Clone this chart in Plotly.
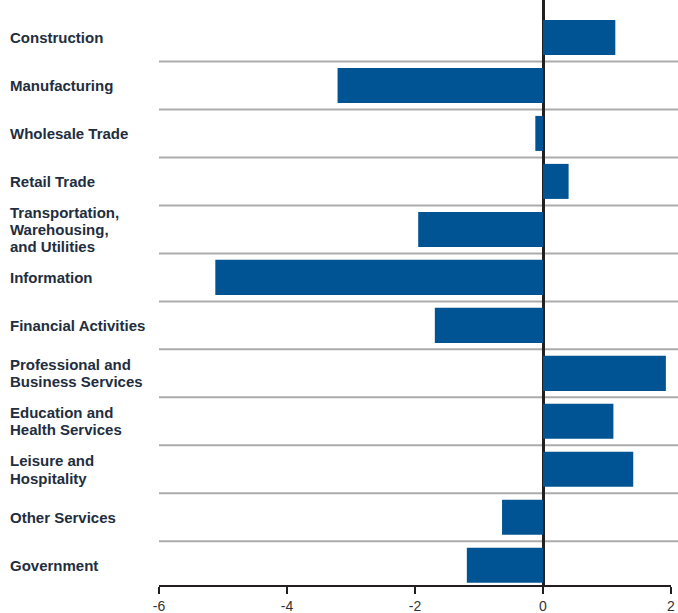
import plotly.graph_objects as go

categories = [
    "Construction",
    "Manufacturing",
    "Wholesale Trade",
    "Retail Trade",
    "Transportation,<br>Warehousing,<br>and Utilities",
    "Information",
    "Financial Activities",
    "Professional and<br>Business Services",
    "Education and<br>Health Services",
    "Leisure and<br>Hospitality",
    "Other Services",
    "Government",
]
values = [1.13, -3.21, -0.12, 0.40, -1.95, -5.12, -1.69, 1.92, 1.10, 1.41, -0.64, -1.19]
tick_vals = [-6, -4, -2, 0, 2]
tick_text = ["-6", "-4", "-2", "0", "2"]

idx = list(range(len(categories)))
LABEL_PX = 15
LEADING = {9: 18}   # px between lines (default 17)

fig = go.Figure()
fig.add_trace(go.Bar(
    x=values, y=idx, orientation="h",
    marker=dict(color="#005493", line=dict(width=0)),
    width=0.73,
    hoverinfo="x",
))

# separators between categories
for i in range(len(categories) - 1):
    fig.add_shape(type="line", xref="paper", x0=0, x1=1.02, yref="y",
                  y0=i + 0.5, y1=i + 0.5,
                  line=dict(color="#ababab", width=2), layer="below")

# left-aligned category labels; base font size sets the line leading,
# inner span sets the glyph size
for i, c in enumerate(categories):
    lead = LEADING.get(i, 17)
    txt = "<br>".join(f"<span style='font-size:{LABEL_PX}px'>{ln}</span>" for ln in c.split("<br>"))
    fig.add_annotation(xref="paper", x=0, xshift=-151, yref="y", y=i,
                       text=txt, showarrow=False, xanchor="left", yanchor="middle",
                       align="left",
                       font=dict(family="Liberation Sans, Arial, sans-serif", size=lead / 1.3,
                                 color="#222d3d", weight="bold"))

fig.update_layout(
    width=678, height=613,
    margin=dict(l=159, r=7, t=0, b=28),
    paper_bgcolor="white", plot_bgcolor="white",
    showlegend=False,
    bargap=0.27,
    xaxis=dict(range=[-6, 2], tickvals=tick_vals, ticktext=tick_text,
               showgrid=False, zeroline=True, zerolinecolor="#231f20", zerolinewidth=3,
               showline=True, linecolor="#231f20", linewidth=2,
               ticks="outside", ticklen=7, tickwidth=2, tickcolor="#231f20",
               tickfont=dict(family="Liberation Sans, Arial, sans-serif", size=14, color="#333333"),
               ticklabeloverflow="allow",
               layer="above traces", fixedrange=True, automargin=False),
    yaxis=dict(range=[11.41, -0.78], showticklabels=False, showgrid=False,
               zeroline=False, showline=False, ticks="", fixedrange=True),
)

fig.write_html("out.html", config={"displayModeBar": False})

with open("out.html", "r", encoding="utf-8") as f:
    html = f.read()
html = html.replace("<head>", "<head><style>html,body{margin:0;padding:0;overflow:hidden;}</style>", 1)
with open("out.html", "w", encoding="utf-8") as f:
    f.write(html)
